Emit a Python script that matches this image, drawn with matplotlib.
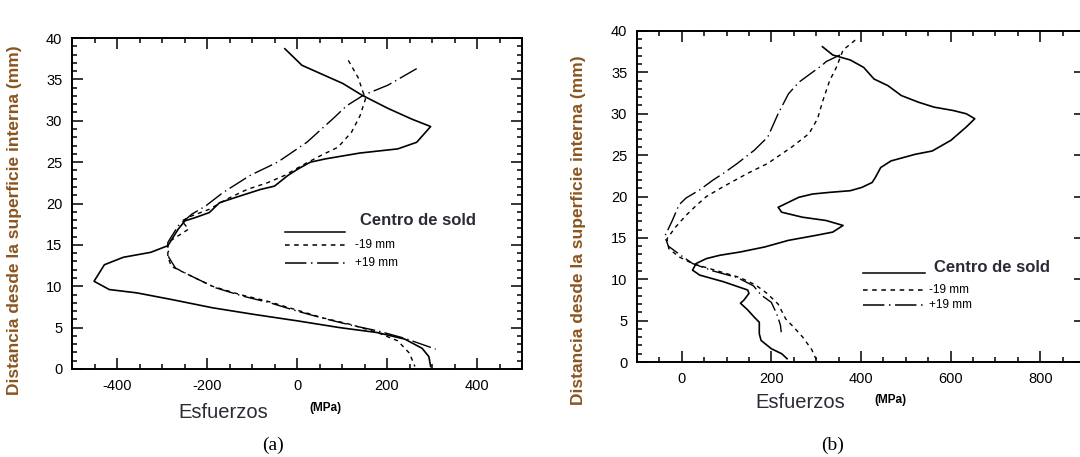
import numpy as np
import matplotlib
matplotlib.use("Agg")
import matplotlib.pyplot as plt
from matplotlib.lines import Line2D
from matplotlib.ticker import MultipleLocator, FixedLocator

plt.rcParams['font.family'] = ['Liberation Sans', 'DejaVu Sans']
plt.rcParams['axes.unicode_minus'] = False

# ---- data (MPa, mm) ----
# panel (a)
a_centro_x = [-27, 11, 102, 144, 202, 255, 297, 266, 224, 140, 64, 30, 3, -20, -50, -81, -127, -172,
              -195, -226, -249, -264, -287, -325, -386, -428, -451, -417, -356, -279, -188, -96, 3,
              95, 179, 240, 278, 293, 297]
a_centro_y = [38.7, 36.7, 34.5, 33.1, 31.5, 30.2, 29.3, 27.4, 26.6, 26.1, 25.4, 25.0, 24.2, 23.4, 22.1,
              21.7, 20.9, 20.1, 18.9, 18.3, 17.9, 16.9, 14.9, 14.1, 13.5, 12.6, 10.6, 9.6, 9.2, 8.4,
              7.4, 6.6, 5.8, 5.0, 4.4, 3.6, 2.5, 1.5, 0.3]

a_m19_x = [114, 136, 152, 140, 121, 91, 53, 11, -27, -66, -111, -157, -195, -234, -256, -241, -264,
           -287, -287, -279, -234, -188, -127, -66, -5, 56, 118, 179, 224, 250, 262]
a_m19_y = [37.3, 35.2, 32.6, 30.6, 28.6, 26.8, 25.8, 24.6, 23.4, 22.5, 21.7, 20.5, 19.3, 18.5, 17.9,
           16.9, 16.1, 15.3, 13.5, 12.4, 11.2, 10.0, 9.0, 8.2, 7.2, 6.2, 5.4, 4.4, 3.4, 1.9, 0.3]

a_p19_x = [266, 202, 148, 110, 83, 22, -43, -104, -165, -203, -234, -264, -287, -285, -270, -230,
           -180, -120, -60, 0, 60, 120, 180, 240, 308]
a_p19_y = [36.3, 34.3, 33.1, 31.8, 30.4, 27.4, 25.0, 23.4, 21.3, 19.7, 18.7, 17.3, 15.3, 13.5, 12.2,
           11.1, 9.8, 8.8, 8.0, 7.0, 6.1, 5.3, 4.6, 3.7, 2.4]

# panel (b)
b_centro_x = [314, 337, 376, 406, 429, 460, 490, 528, 563, 605, 635, 654, 635, 601, 559, 521, 467,
              444, 432, 425, 402, 376, 330, 292, 261, 223, 215, 223, 269, 322, 360, 337, 299, 238,
              185, 131, 85, 55, 32, 24, 40, 93, 147, 150, 139, 131, 147, 162, 173, 173, 177, 200,
              223, 235]
b_centro_y = [38.1, 37.1, 36.5, 35.6, 34.2, 33.4, 32.2, 31.4, 30.8, 30.4, 30.0, 29.4, 28.4, 26.8,
              25.5, 25.1, 24.3, 23.5, 22.3, 21.7, 21.1, 20.7, 20.5, 20.3, 19.9, 18.9, 18.7, 18.1,
              17.5, 17.1, 16.5, 15.7, 15.3, 14.7, 13.9, 13.3, 12.9, 12.5, 11.9, 11.1, 10.5, 9.7,
              8.7, 8.3, 7.5, 7.1, 6.3, 5.4, 4.8, 3.4, 2.6, 1.6, 1.0, 0.4]

b_m19_x = [387, 360, 345, 330, 315, 303, 284, 246, 192, 147, 93, 55, 32, 9, -14, -33, -29, -6, 24,
           80, 130, 165, 190, 215, 232, 250, 270, 290, 300]
b_m19_y = [38.9, 37.7, 35.6, 34.0, 31.6, 29.4, 27.6, 26.0, 24.0, 22.8, 21.2, 20.0, 18.9, 17.7, 16.3,
           14.9, 13.7, 12.7, 11.9, 11.0, 10.2, 9.3, 8.3, 7.0, 5.2, 4.2, 3.0, 1.5, 0.3]

b_p19_x = [353, 322, 314, 261, 238, 215, 192, 162, 124, 93, 70, 40, 9, -6, -22, -38, -30, 0, 24, 70,
           124, 160, 177, 200, 212, 220, 222]
b_p19_y = [37.1, 36.3, 35.9, 33.8, 32.4, 30.0, 27.2, 25.6, 24.0, 22.8, 22.0, 20.8, 19.8, 19.0, 17.0,
           15.2, 14.0, 12.8, 11.9, 11.0, 10.2, 9.2, 8.1, 7.2, 5.8, 4.5, 3.6]

ylabel = "Distancia desde la superficie interna (mm)"
xlabel = "Esfuerzos"
legend_labels = ["Centro de sold", "-19 mm", "+19 mm"]

W, H = 1080, 457
LBL_COLOR = "#8a5520"
TXT_COLOR = "#2d2a36"
DASH = (0, (3, 3))
DASHDOT = (0, (14, 3, 1, 3))


def fx(px):
    return px / W


def fy(py):
    return 1 - py / H


def style_axes(ax, xlim, xlabels):
    ax.set_xlim(*xlim)
    ax.set_ylim(0, 40)
    ax.yaxis.set_major_locator(MultipleLocator(5))
    ax.yaxis.set_minor_locator(MultipleLocator(1))
    ax.set_xticks(xlabels)
    # long ticks every 100, short every 50 (only the labelled ones carry text)
    ax.xaxis.set_minor_locator(FixedLocator(np.arange(xlim[0], xlim[1] + 1, 50)))
    ax.tick_params(which='both', direction='in', top=True, right=True, width=1.1, colors='black')
    ax.tick_params(which='major', length=8, labelsize=10.5, pad=7)
    ax.tick_params(which='minor', length=3.5)
    for s in ax.spines.values():
        s.set_linewidth(1.4)


fig = plt.figure(figsize=(10.8, 4.57), dpi=100)

axa = fig.add_axes([fx(72), fy(369), fx(450), 331 / H])
axb = fig.add_axes([fx(637), fy(362), fx(448), 331 / H])

axa.plot(a_centro_x, a_centro_y, color='black', lw=1.2)
axa.plot(a_m19_x, a_m19_y, color='black', lw=1.0, ls=DASH)
axa.plot(a_p19_x, a_p19_y, color='black', lw=1.0, ls=DASHDOT)
style_axes(axa, (-500, 500), [-400, -200, 0, 200, 400])

axb.plot(b_centro_x, b_centro_y, color='black', lw=1.2)
axb.plot(b_m19_x, b_m19_y, color='black', lw=1.0, ls=DASH)
axb.plot(b_p19_x, b_p19_y, color='black', lw=1.0, ls=DASHDOT)
style_axes(axb, (-100, 900), [0, 200, 400, 600, 800])

# y labels
fig.text(fx(15), fy(220), ylabel, rotation=90, ha='center', va='center',
         fontsize=12.5, fontweight='bold', color=LBL_COLOR)
fig.text(fx(578), fy(230), ylabel, rotation=90, ha='center', va='center',
         fontsize=12.5, fontweight='bold', color=LBL_COLOR)

# x labels
fig.text(fx(223), fy(412), xlabel, ha='center', va='center', fontsize=14.5, color=TXT_COLOR)
fig.text(fx(325), fy(408), "(MPa)", ha='center', va='center', fontsize=8.5, fontweight='bold')
fig.text(fx(800), fy(402), xlabel, ha='center', va='center', fontsize=14.5, color=TXT_COLOR)
fig.text(fx(890), fy(400), "(MPa)", ha='center', va='center', fontsize=8.5, fontweight='bold')

fig.text(fx(273), fy(445), "(a)", ha='center', va='center', fontsize=14, family='Liberation Serif')
fig.text(fx(833), fy(445), "(b)", ha='center', va='center', fontsize=14, family='Liberation Serif')


# hand-placed legends, as in the scan
def legend(x0, x1, xt, ys, yt):
    styles = ['-', DASH, DASHDOT]
    for y, ls in zip(ys, styles):
        fig.add_artist(Line2D([fx(x0), fx(x1)], [fy(y), fy(y)], transform=fig.transFigure,
                              color='black', lw=1.1, ls=ls))
    fig.text(fx(xt), fy(yt), legend_labels[0], ha='left', va='center', fontsize=12,
             fontweight='bold', color=TXT_COLOR)
    fig.text(fx(xt - 5), fy(ys[1]), legend_labels[1], ha='left', va='center', fontsize=8.5)
    fig.text(fx(xt - 5), fy(ys[2]), legend_labels[2], ha='left', va='center', fontsize=8.5)


legend(285, 345, 360, [232, 245, 263], 220)
legend(863, 925, 934, [273, 290, 305], 267)

fig.savefig("out.png", dpi=100)
